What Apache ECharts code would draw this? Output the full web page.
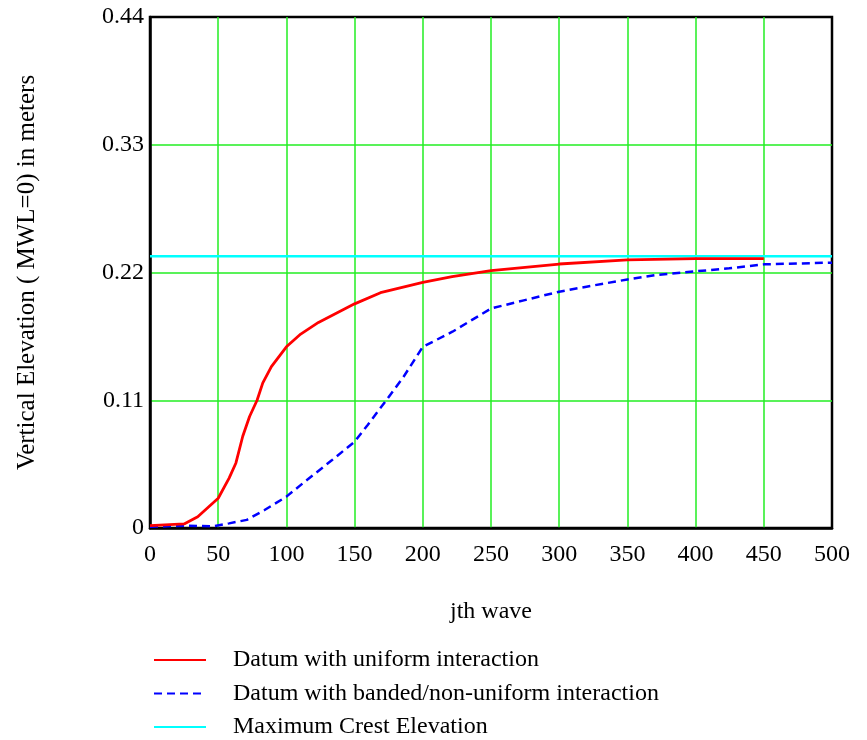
<!DOCTYPE html>
<html>
<head>
<meta charset="utf-8">
<script src="https://cdn.jsdelivr.net/npm/echarts@6/dist/echarts.min.js"></script>
<style>
  html, body { margin: 0; padding: 0; background: #fff; }
  #chart { width: 867px; height: 740px; }
</style>
</head>
<body>
<div id="chart"></div>
<script>
// red: uniform interaction [wave, elevation]
var uniformData = [
  [0, 0.002], [25, 0.0035], [35, 0.0097], [50, 0.0256], [58, 0.043], [63, 0.056],
  [68, 0.079], [73, 0.096], [78.5, 0.110], [82.7, 0.125], [89, 0.139], [100, 0.156],
  [110.5, 0.167], [123.5, 0.177], [150, 0.193], [169, 0.2026], [200, 0.2115],
  [221.5, 0.2164], [250, 0.2216], [300, 0.2273], [350, 0.2308], [400, 0.2319], [450, 0.232]
];
// blue dashed: banded / non-uniform interaction
var bandedData = [
  [0, 0.001], [25, 0.002], [47, 0.0015], [58, 0.004], [71, 0.007], [84, 0.0155],
  [100, 0.027], [113.6, 0.040], [133.5, 0.0585], [150, 0.0743], [159.6, 0.0887],
  [174.3, 0.1117], [185.8, 0.130], [200, 0.156], [221.7, 0.169], [250, 0.189],
  [274, 0.196], [300, 0.2035], [320, 0.2078], [350, 0.214], [372, 0.218],
  [400, 0.221], [424.6, 0.2236], [450, 0.227], [500, 0.2285]
];
// cyan: maximum crest elevation
var crestData = [[0, 0.234], [500, 0.234]];

var seriesNames = [
  'Datum with uniform interaction',
  'Datum with banded/non-uniform interaction',
  'Maximum Crest Elevation'
];

var serif = '"Liberation Serif", "DejaVu Serif", serif';
var gridGreen = '#22ee22';
var frame = { show: true, lineStyle: { color: '#000', width: 2.5 } };

var chart = echarts.init(document.getElementById('chart'));
chart.setOption({
  animation: false,
  backgroundColor: '#fff',
  textStyle: { fontFamily: serif, color: '#000' },
  grid: {
    left: 150, top: 17, right: 35, bottom: 212,
    show: true, borderColor: '#000', borderWidth: 2.5, backgroundColor: 'transparent'
  },
  legend: {
    orient: 'vertical',
    left: 153, top: 648, padding: 0,
    itemWidth: 52, itemHeight: 14, itemGap: 9.5,
    itemStyle: { opacity: 0 },
    textStyle: { fontFamily: serif, fontSize: 24, color: '#000', padding: [0, 0, 0, 22] },
    data: seriesNames
  },
  xAxis: {
    type: 'value', min: 0, max: 500, interval: 50,
    name: 'jth wave', nameLocation: 'middle', nameGap: 72,
    nameTextStyle: { fontFamily: serif, fontSize: 24, color: '#000' },
    axisLine: frame, axisTick: { show: false },
    axisLabel: { fontFamily: serif, fontSize: 24, color: '#000', margin: 15 },
    splitLine: {
      show: true, showMinLine: false, showMaxLine: false,
      lineStyle: { color: gridGreen, width: 1.5 }
    }
  },
  yAxis: {
    type: 'value', min: 0, max: 0.44, interval: 0.11,
    name: 'Vertical Elevation ( MWL=0) in meters', nameLocation: 'middle', nameGap: 110,
    nameTextStyle: { fontFamily: serif, fontSize: 25, color: '#000' },
    axisLine: frame, axisTick: { show: false },
    axisLabel: {
      fontFamily: serif, fontSize: 24, color: '#000', margin: 6,
      formatter: function (v) { return v === 0 ? '0' : v.toFixed(2); }
    },
    splitLine: {
      show: true, showMinLine: false, showMaxLine: false,
      lineStyle: { color: gridGreen, width: 1.5 }
    }
  },
  series: [
    {
      name: seriesNames[0], type: 'line', data: uniformData, symbol: 'none',
      lineStyle: { color: '#ff0000', width: 2.8 }, itemStyle: { color: '#ff0000' }, z: 3
    },
    {
      name: seriesNames[1], type: 'line', data: bandedData, symbol: 'none',
      lineStyle: { color: '#0000ff', width: 2.5, type: [8, 5] }, itemStyle: { color: '#0000ff' }, z: 2
    },
    {
      name: seriesNames[2], type: 'line', data: crestData, symbol: 'none',
      lineStyle: { color: '#00ffff', width: 2.5 }, itemStyle: { color: '#00ffff' }, z: 1
    }
  ]
});
</script>
</body>
</html>
